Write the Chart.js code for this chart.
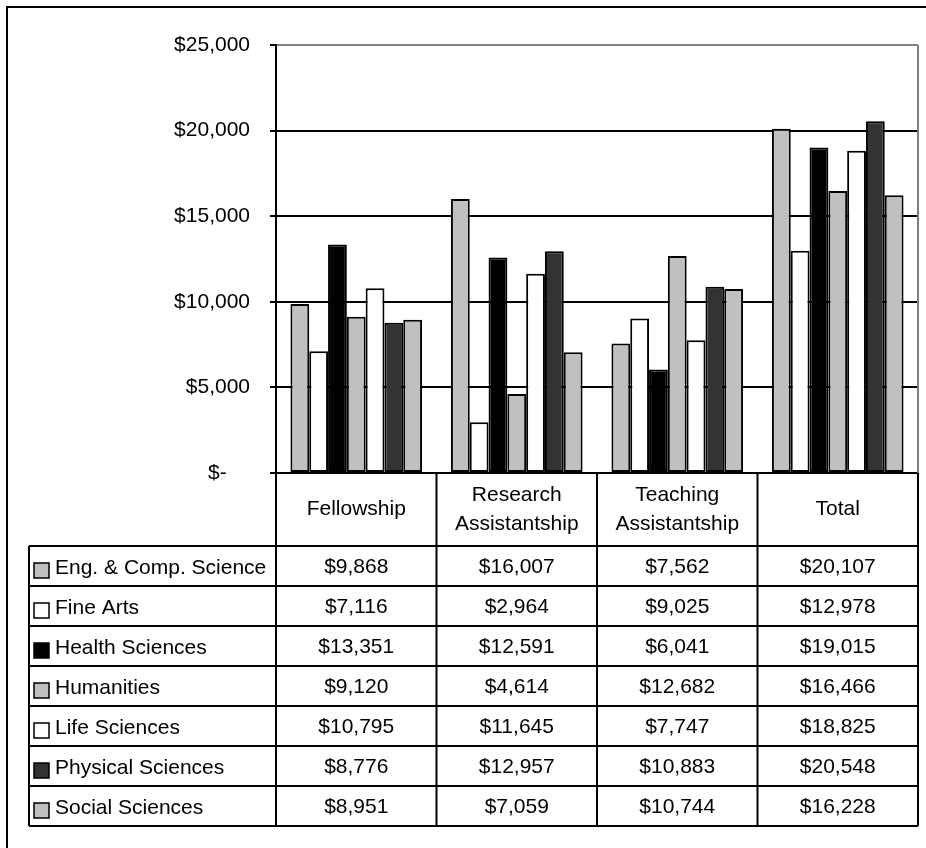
<!DOCTYPE html>
<html>
<head>
<meta charset="utf-8">
<script src="https://cdn.jsdelivr.net/npm/chart.js@4"></script>
<style>
  html, body { margin: 0; padding: 0; background: #fff; }
  #wrap { width: 926px; height: 848px; }
</style>
</head>
<body>
<div id="wrap"><canvas id="aid-chart"></canvas></div>
<script>
const categories = [["Fellowship"], ["Research", "Assistantship"], ["Teaching", "Assistantship"], ["Total"]];
const seriesNames = ["Eng. & Comp. Science", "Fine Arts", "Health Sciences", "Humanities", "Life Sciences", "Physical Sciences", "Social Sciences"];
const engComp = [9868, 16007, 7562, 20107];
const fineArts = [7116, 2964, 9025, 12978];
const health = [13351, 12591, 6041, 19015];
const humanities = [9120, 4614, 12682, 16466];
const lifeSci = [10795, 11645, 7747, 18825];
const physical = [8776, 12957, 10883, 20548];
const socialSci = [8951, 7059, 10744, 16228];
const yTicks = [0, 5000, 10000, 15000, 20000, 25000];

const seriesValues = [engComp, fineArts, health, humanities, lifeSci, physical, socialSci];
const fills = ["#C0C0C0", "#FFFFFF", "#000000", "#C0C0C0", "#FFFFFF", "#333333", "#C0C0C0"];

const FONT = "21px 'Liberation Sans', Arial, sans-serif";

function money(v) {
    return v === 0 ? "$-    " : "$" + v.toLocaleString("en-US");
}

// draws the frame, plot border and the data table under the bars
const tablePlugin = {
    id: "dataTable",
    afterDraw(chart) {
        const ctx = chart.ctx;
        const area = chart.chartArea;
        const xs = chart.scales.x;
        const half = (area.right - area.left) / categories.length / 2;
        const bounds = [area.left];
        categories.forEach((c, i) => bounds.push(xs.getPixelForValue(i) + half));

        const headerBottom = 546;
        const rowH = 40;
        const tableLeft = 29;
        const tableBottom = headerBottom + rowH * seriesNames.length;

        ctx.save();
        // outer frame
        ctx.strokeStyle = "#000";
        ctx.lineWidth = 2;
        ctx.beginPath();
        ctx.moveTo(7, 900);
        ctx.lineTo(7, 7);
        ctx.lineTo(1000, 7);
        ctx.stroke();

        // plot area right border
        ctx.strokeStyle = "#808080";
        ctx.beginPath();
        ctx.moveTo(area.right, area.top);
        ctx.lineTo(area.right, area.bottom);
        ctx.stroke();

        // table grid
        ctx.strokeStyle = "#000";
        ctx.beginPath();
        bounds.forEach((x) => {
            ctx.moveTo(x, area.bottom);
            ctx.lineTo(x, tableBottom);
        });
        ctx.moveTo(tableLeft, headerBottom);
        ctx.lineTo(tableLeft, tableBottom);
        for (let r = 0; r <= seriesNames.length; r++) {
            const y = headerBottom + r * rowH;
            ctx.moveTo(tableLeft, y);
            ctx.lineTo(area.right, y);
        }
        ctx.stroke();

        ctx.font = FONT;
        ctx.fillStyle = "#000";
        ctx.textBaseline = "middle";
        ctx.textAlign = "center";

        // header
        const headMid = (area.bottom + headerBottom) / 2;
        categories.forEach((lines, i) => {
            const cx = xs.getPixelForValue(i);
            const lh = 29;
            lines.forEach((t, k) => {
                ctx.fillText(t, cx, headMid + (k - (lines.length - 1) / 2) * lh);
            });
        });

        // rows
        seriesNames.forEach((name, r) => {
            const cy = headerBottom + r * rowH + rowH / 2 + 1;
            ctx.textAlign = "center";
            seriesValues[r].forEach((v, i) => {
                ctx.fillText(money(v), xs.getPixelForValue(i), cy);
            });
            // legend key
            ctx.fillStyle = fills[r];
            ctx.fillRect(34, cy - 4, 15, 15);
            ctx.strokeStyle = "#000";
            ctx.lineWidth = 1.5;
            ctx.strokeRect(34, cy - 4, 15, 15);
            ctx.fillStyle = "#000";
            ctx.textAlign = "left";
            ctx.fillText(name, 55, cy + 1);
        });
        ctx.restore();
    },
};

new Chart(document.getElementById("aid-chart"), {
    type: "bar",
    data: {
        labels: categories.map((c) => c.join(" ")),
        datasets: seriesNames.map((name, i) => ({
            label: name,
            data: seriesValues[i],
            backgroundColor: fills[i],
            borderColor: "#000000",
            borderWidth: 2,
            borderSkipped: false,
            barPercentage: 1,
            categoryPercentage: 0.82,
        })),
    },
    options: {
        responsive: true,
        maintainAspectRatio: false,
        animation: false,
        layout: { padding: { left: 0, top: 45, right: 8, bottom: 375 } },
        plugins: {
            legend: { display: false },
            tooltip: { enabled: false },
        },
        scales: {
            x: { display: false },
            y: {
                min: 0,
                max: 25000,
                afterBuildTicks: (scale) => {
                    scale.ticks = yTicks.map((v) => ({ value: v }));
                },
                afterFit: (scale) => {
                    scale.width = 276;
                },
                border: { color: "#000", width: 2 },
                grid: {
                    color: (c) => (c.tick && c.tick.value === 25000 ? "#808080" : "#000"),
                    tickColor: "#000",
                    lineWidth: 2,
                    tickLength: 6,
                },
                ticks: {
                    color: "#000",
                    font: { family: "'Liberation Sans', Arial, sans-serif", size: 21 },
                    padding: 20,
                    callback: (v) => money(v),
                },
            },
        },
    },
    plugins: [tablePlugin],
});
</script>
</body>
</html>
